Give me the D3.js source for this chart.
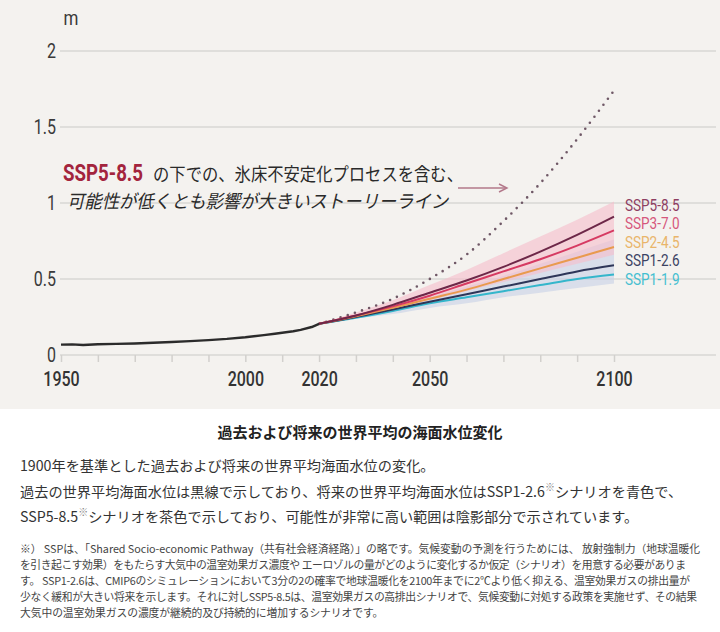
<!DOCTYPE html>
<html><head><meta charset="utf-8">
<script src="https://cdn.jsdelivr.net/npm/d3@7/dist/d3.min.js"></script>
<style>
html,body{margin:0;padding:0;background:#fff;}
svg{display:block;}
</style></head>
<body>
<script>
// ---------- DATA ----------
const histYears = [1950,1953,1956,1960,1965,1970,1975,1980,1985,1990,1995,2000,2005,2008,2010,2013,2015,2018,2020];
const histValues = [0.068,0.070,0.066,0.071,0.073,0.076,0.081,0.086,0.091,0.098,0.106,0.117,0.131,0.140,0.146,0.156,0.165,0.184,0.205];

const projYears = [2020,2030,2040,2050,2060,2070,2080,2090,2100];
const ssp585 = [0.205,0.26,0.33,0.41,0.49,0.58,0.68,0.79,0.91];
const ssp370 = [0.205,0.26,0.32,0.39,0.47,0.55,0.63,0.72,0.82];
const ssp245 = [0.205,0.255,0.31,0.37,0.43,0.50,0.57,0.64,0.71];
const ssp126 = [0.205,0.25,0.30,0.35,0.40,0.45,0.50,0.55,0.59];
const ssp119 = [0.205,0.245,0.29,0.34,0.38,0.42,0.46,0.50,0.53];
const band585Low  = [0.205,0.25,0.30,0.36,0.42,0.48,0.54,0.60,0.66];
const band585High = [0.205,0.28,0.36,0.46,0.56,0.67,0.78,0.89,1.01];
const band126Low  = [0.205,0.24,0.27,0.31,0.34,0.38,0.41,0.44,0.47];
const band126High = [0.205,0.26,0.32,0.38,0.45,0.52,0.60,0.68,0.76];
const storyline   = [0.205,0.28,0.37,0.50,0.66,0.88,1.13,1.42,1.74];

const scenarioNames = ["SSP5-8.5","SSP3-7.0","SSP2-4.5","SSP1-2.6","SSP1-1.9"];
const yTicks = [0,0.5,1,1.5,2];
const xLabelYears = [1950,2000,2020,2050,2100];

const annotationLead = "SSP5-8.5";
const annotationLine1 = "の下での、氷床不安定化プロセスを含む、";
const annotationLine2 = "可能性が低くとも影響が大きいストーリーライン";
const title = "過去および将来の世界平均の海面水位変化";
const bodyLines = [
  [["1900年を基準とした過去および将来の世界平均海面水位の変化。",false]],
  [["過去の世界平均海面水位は黒線で示しており、将来の世界平均海面水位はSSP1-2.6",false],["※",true],["シナリオを青色で、",false]],
  [["SSP5-8.5",false],["※",true],["シナリオを茶色で示しており、可能性が非常に高い範囲は陰影部分で示されています。",false]]
];
const footLines = [
  "※） SSPは、「Shared Socio-economic Pathway（共有社会経済経路）」の略です。気候変動の予測を行うためには、 放射強制力（地球温暖化",
  "を引き起こす効果）をもたらす大気中の温室効果ガス濃度や エーロゾルの量がどのように変化するか仮定（シナリオ）を用意する必要がありま",
  "す。 SSP1-2.6は、CMIP6のシミュレーションにおいて3分の2の確率で地球温暖化を2100年までに2℃より低く抑える、温室効果ガスの排出量が",
  "少なく緩和が大きい将来を示します。それに対しSSP5-8.5は、温室効果ガスの高排出シナリオで、気候変動に対処する政策を実施せず、その結果",
  "大気中の温室効果ガスの濃度が継続的及び持続的に増加するシナリオです。"
];

// ---------- DRAW ----------
const W = 720, H = 632;
const cond = "'Roboto','Liberation Sans',sans-serif";
const jp = "'Noto Sans CJK JP','Noto Sans',sans-serif";
const svg = d3.select("body").append("svg").attr("width", W).attr("height", H);

function condense(sel, f){
  sel.each(function(){
    const w = this.getComputedTextLength();
    d3.select(this).attr("textLength", w*f).attr("lengthAdjust","spacingAndGlyphs");
  });
}
function fitTo(sel, w){
  sel.attr("textLength", w).attr("lengthAdjust","spacingAndGlyphs");
}

svg.append("rect").attr("x",0).attr("y",0).attr("width",W).attr("height",409).attr("fill","#f4f2ef");

const x = d3.scaleLinear().domain([1950,2100]).range([61,614]);
const y = d3.scaleLinear().domain([0,2]).range([355,51]);

// gridlines
svg.append("g").selectAll("line").data(yTicks).join("line")
  .attr("x1",60).attr("x2",716)
  .attr("y1",d=>y(d)).attr("y2",d=>y(d))
  .attr("stroke","#d9d7d4").attr("stroke-width",1.6);

// y labels
const yl = svg.append("g").selectAll("text").data(yTicks).join("text")
  .attr("x",56).attr("y",d=>y(d)+7)
  .attr("text-anchor","end")
  .attr("font-family",cond).attr("font-size",20).attr("fill","#3a3a3a")
  .text(d=>d3.format("~g")(d));
condense(yl,0.8);
const mLab = svg.append("text").attr("x",71).attr("y",25).attr("text-anchor","middle")
  .attr("font-family",cond).attr("font-size",20).attr("fill","#3a3a3a").text("m");
condense(mLab,0.85);

// x axis
const xAxis = d3.axisBottom(x).tickValues(d3.range(1950,2101,10)).tickSize(7).tickSizeOuter(0)
  .tickFormat(d=> xLabelYears.includes(d) ? String(d) : "");
const gx = svg.append("g").attr("transform",`translate(0,${y(0)})`).call(xAxis);
gx.select(".domain").remove();
gx.selectAll(".tick line").attr("stroke","#d2d0cd").attr("stroke-width",1.5);
const xt = gx.selectAll(".tick text").attr("font-family",cond).attr("font-size",20)
  .attr("fill","#333").attr("font-weight",500).attr("dy","1.05em");
xt.filter(function(){return this.textContent!=="";}).call(condense,0.8);

// bands
const area = (lo,hi)=> d3.area().x((d,i)=>x(projYears[i])).y0((d,i)=>y(lo[i])).y1((d,i)=>y(hi[i])).curve(d3.curveMonotoneX)(projYears);
svg.append("path").attr("d",area(band126Low,band126High)).attr("fill","#c6d1e6").attr("opacity",0.6);
svg.append("path").attr("d",area(band585Low,band585High)).attr("fill","#f6bfcb").attr("opacity",0.62);

const line = d3.line().curve(d3.curveMonotoneX);
const projLine = vals => line(projYears.map((yr,i)=>[x(yr),y(vals[i])]));

// storyline dotted
svg.append("path").attr("d",projLine(storyline)).attr("fill","none")
  .attr("stroke","#6f5866").attr("stroke-width",2.6).attr("stroke-linecap","round")
  .attr("stroke-dasharray","0,7.5");

// scenario lines
const lineColors = ["#6d2748","#d63a62","#e99a4e","#2e3658","#34b6cb"];
const seriesVals = [ssp585,ssp370,ssp245,ssp126,ssp119];
[4,3,2,1,0].forEach(k=>{
  svg.append("path").attr("d",projLine(seriesVals[k])).attr("fill","none")
    .attr("stroke",lineColors[k]).attr("stroke-width",2);
});

// historical
svg.append("path").attr("d",d3.line()(histYears.map((yr,i)=>[x(yr),y(histValues[i])]))).attr("fill","none")
  .attr("stroke","#2b2b2b").attr("stroke-width",2.4).attr("stroke-linejoin","round");

// legend
const legendColors = ["#8e3e62","#d6577c","#e9b56a","#3b4263","#44bfd1"];
const legendY = [211,229,248,266,285];
const lg = svg.append("g").selectAll("text").data(scenarioNames).join("text")
  .attr("x",625).attr("y",(d,i)=>legendY[i])
  .attr("font-family",cond).attr("font-size",16.5)
  .attr("fill",(d,i)=>legendColors[i]).text(d=>d);
condense(lg,0.82);

// annotation
const lead = svg.append("text").attr("x",63).attr("y",181).attr("font-family",cond).attr("font-size",23)
  .attr("fill","#a3243d").attr("font-weight","bold").text(annotationLead);
fitTo(lead,80);
const l1 = svg.append("text").attr("x",153).attr("y",181).attr("font-family",jp).attr("font-size",18.5)
  .attr("fill","#2a2a2a").text(annotationLine1);
fitTo(l1,310);
const l2 = svg.append("text").attr("x",67).attr("y",208).attr("font-family",jp).attr("font-size",18.5)
  .attr("font-style","italic").attr("fill","#2a2a2a").text(annotationLine2);
fitTo(l2,381);
svg.append("line").attr("x1",458).attr("x2",506).attr("y1",188).attr("y2",188)
  .attr("stroke","#b3788a").attr("stroke-width",1.4);
svg.append("path").attr("d","M499,184 L507,188 L499,192").attr("fill","none")
  .attr("stroke","#b3788a").attr("stroke-width",1.4);

// title
svg.append("text").attr("x",360).attr("y",438).attr("text-anchor","middle")
  .attr("font-family",jp).attr("font-weight","bold").attr("font-size",15).attr("fill","#222").text(title);

// body
bodyLines.forEach((parts,li)=>{
  const t = svg.append("text").attr("x",20).attr("y",471+li*25.5)
    .attr("font-family",jp).attr("font-size",14.2).attr("fill","#333");
  let prevSup = false;
  parts.forEach(([s,sup])=>{
    const ts = t.append("tspan").text(s);
    if(sup){ ts.attr("font-size",10).attr("dy",-6).attr("fill","#888"); }
    else if(prevSup){ ts.attr("dy",6); }
    prevSup = sup;
  });
});

// footnote
const footEnds = [700,686,690,697];
const ft = svg.append("g").selectAll("text").data(footLines).join("text")
  .attr("x",20).attr("y",(d,i)=>553+i*16)
  .attr("font-family",jp).attr("font-size",10.8).attr("fill","#444").text(d=>d);
const nat0 = ft.nodes()[0].getComputedTextLength();
const kf = (footEnds[0]-20)/nat0;
ft.each(function(d,i){
  const w = i<4 ? footEnds[i]-20 : this.getComputedTextLength()*kf;
  d3.select(this).attr("textLength",w).attr("lengthAdjust","spacing");
});
</script>
</body></html>
